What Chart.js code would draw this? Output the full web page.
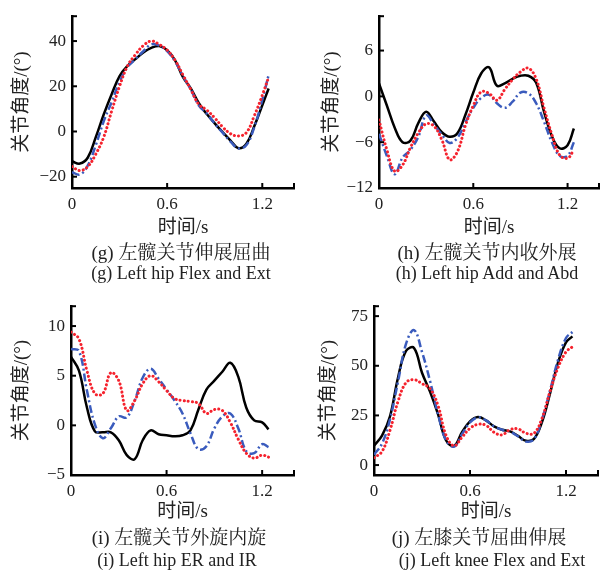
<!DOCTYPE html>
<html>
<head>
<meta charset="utf-8">
<script src="https://cdn.jsdelivr.net/npm/chart.js@4.4.1/dist/chart.umd.min.js"></script>
<style>
body { margin: 0; background: #fff; width: 613px; height: 573px; position: relative; overflow: hidden; }
canvas { position: absolute; }
.cap { position: absolute; width: 300px; text-align: center; color: #222; white-space: nowrap;
       font-family: 'Liberation Serif', 'Noto Serif CJK SC', 'Noto Sans CJK SC', serif; line-height: 20px; }
.zh { font-size: 19px; }
.en { font-size: 18px; }
</style>
</head>
<body>
<canvas id="cg" width="300" height="242" style="left:0;top:0"></canvas>
<canvas id="ch" width="300" height="242" style="left:305px;top:0"></canvas>
<canvas id="ci" width="300" height="242" style="left:0;top:290px"></canvas>
<canvas id="cj" width="300" height="242" style="left:305px;top:290px"></canvas>

<div class="cap zh" style="left:31px;top:243px">(g) 左髋关节伸展屈曲</div>
<div class="cap en" style="left:31px;top:263px">(g) Left hip Flex and Ext</div>
<div class="cap zh" style="left:337px;top:243px">(h) 左髋关节内收外展</div>
<div class="cap en" style="left:337px;top:263px">(h) Left hip Add and Abd</div>
<div class="cap zh" style="left:29px;top:528px">(i) 左髋关节外旋内旋</div>
<div class="cap en" style="left:27px;top:550px">(i) Left hip ER and IR</div>
<div class="cap zh" style="left:329px;top:528px">(j) 左膝关节屈曲伸展</div>
<div class="cap en" style="left:342px;top:550px">(j) Left knee Flex and Ext</div>

<script>
// 时间轴（s）
var TIME = [0, 0.05, 0.1, 0.15, 0.2, 0.25, 0.3, 0.35, 0.4, 0.45, 0.5, 0.55, 0.6,
            0.65, 0.7, 0.75, 0.8, 0.85, 0.9, 0.95, 1.0, 1.05, 1.1, 1.15, 1.2, 1.24];
var X_TICKS = [0, 0.6, 1.2];

// (g) 左髋关节伸展屈曲
var gSolid   = [-13.2, -14.2, -11.5, -2.5, 7.5, 16.5, 24.5, 29, 32, 35, 37, 37.8, 36,
                31.5, 24, 19, 12.5, 7.7, 3.6, -0.3, -4, -7.4, -5.4, 2.4, 11.6, 19];
var gDotted  = [-15.5, -17.3, -15.5, -10, -2.5, 9, 20, 29, 34, 38, 40, 38.5, 36,
                31.5, 25, 18.5, 12, 9.5, 6, 2, -1, -2, -0.5, 7, 16, 24];
var gDashDot = [-18, -19, -15, -6, 4.5, 13, 22, 28.5, 32, 35.5, 38.5, 38, 35.5,
                31, 24.5, 18.5, 11.5, 8, 3.5, -0.5, -4.5, -7.5, -6, 2, 14, 25];
var gYTicks  = [-20, 0, 20, 40];

// (h) 左髋关节内收外展
var hSolid   = [1.7, -1.2, -4.1, -6, -5.8, -3.5, -2, -3.3, -4.7, -5.3, -4.8, -2.4, 0.5,
                3, 3.8, 1.4, 1.7, 2.3, 2.7, 2.7, 1.8, -2, -5.2, -6.8, -6.4, -4.2];
var hDotted  = [-3.1, -7, -9.8, -9, -6.7, -4.8, -3.6, -3.9, -5.7, -8.3, -7.2, -3.8, -1.2,
                0.6, 0.4, -0.5, 0.9, 2.2, 3.2, 3.7, 2.3, -1.5, -5, -7.7, -8.1, -7];
var hDashDot = [-4.9, -7.8, -10.2, -8, -7, -5.3, -2.5, -3.7, -5, -6.1, -5.4, -3.4, -1.5,
                -0.2, 0.2, -0.9, -1.5, -0.7, 0.5, 0.4, -0.9, -3.3, -6, -7.8, -7.8, -6];
var hYTicks  = [-12, -6, 0, 6];

// (i) 左髋关节外旋内旋
var iSolid   = [6.9, 5.5, 1.8, -0.6, -0.7, -0.7, -1.5, -3, -3.4, -1.5, -0.5, -0.9, -1,
                -1.1, -1, -0.5, 1.6, 3.6, 4.5, 5.4, 6.3, 4.9, 1.8, 0.5, 0.3, -0.4];
var iDotted  = [9.4, 8.7, 5.5, 3.2, 3.2, 5.3, 4.5, 1.5, 2.5, 4.2, 5, 4.4, 3.5,
                2.7, 2.5, 2.4, 2.2, 1.2, 1.6, 1.5, 0.3, -1.4, -2.8, -3.3, -3, -3.2];
var iDashDot = [7.7, 7.5, 3.5, 0.1, -1.3, -0.3, 0.9, 0.8, 2.5, 4.8, 5.7, 4.7, 3.6,
                2.5, 1.2, -0.8, -2.4, -2.1, -0.3, 0.9, 1.2, -0.3, -2.6, -2.8, -1.9, -2.2];
var iYTicks  = [-5, 0, 5, 10];

// (j) 左膝关节屈曲伸展
var jSolid   = [9.7, 14.8, 24.5, 44, 57.5, 59, 46.5, 37, 25.6, 12.5, 9.6, 16.5, 22,
                24.2, 22.5, 19.5, 17.8, 17, 14.7, 12.2, 13.2, 21.7, 36, 51.6, 61.8, 64.8];
var jDotted  = [3.7, 6.8, 17.5, 32, 41.5, 43, 41, 38.5, 30, 15, 9.7, 14, 18.5,
                20.5, 20, 16.5, 15.2, 17.8, 18.2, 16, 16, 23.5, 37, 49, 57, 59.5];
var jDashDot = [5.2, 10.8, 23, 42, 61, 68, 57, 42.4, 25.7, 12.5, 9.3, 15.5, 21.5,
                24, 22.5, 19.5, 17.8, 16.8, 14.5, 11.8, 13, 23, 37.5, 53, 64, 67];
var jYTicks  = [0, 25, 50, 75];

var TEXT = '#222';
var NUM_FONT = "'Liberation Serif', 'Times New Roman', serif";
var CJK_FONT = "'Liberation Serif', 'Noto Sans CJK SC', sans-serif";

function pts(vals) {
    return vals.map(function (v, i) { return { x: TIME[i], y: v }; });
}

// 向内的刻度线
var innerTicks = {
    id: 'innerTicks',
    afterDatasetsDraw: function (chart) {
        var ctx = chart.ctx, a = chart.chartArea, sx = chart.scales.x, sy = chart.scales.y;
        ctx.save();
        ctx.strokeStyle = '#000';
        ctx.lineWidth = 2;
        sx.ticks.forEach(function (t) {
            var p = sx.getPixelForValue(t.value);
            if (t.value === 0) return;
            ctx.beginPath(); ctx.moveTo(p, a.bottom); ctx.lineTo(p, a.bottom - 5); ctx.stroke();
        });
        sy.ticks.forEach(function (t) {
            var p = sy.getPixelForValue(t.value);
            ctx.beginPath(); ctx.moveTo(a.left, p); ctx.lineTo(a.left + 5, p); ctx.stroke();
        });
        ctx.restore();
    }
};

function makePanel(id, yMin, yMax, yTicks, solid, dotted, dashdot, box) {
    var xMax = 1.4;
    new Chart(document.getElementById(id).getContext('2d'), {
        type: 'line',
        data: {
            datasets: [
                { data: pts(dotted), borderColor: '#f5222d', borderWidth: 3,
                  borderDash: [0.1, 4], borderCapStyle: 'round' },
                { data: pts(dashdot), borderColor: '#3a5bbd', borderWidth: 2.5,
                  borderDash: [8, 3, 2, 3] },
                { data: pts(solid), borderColor: '#000', borderWidth: 2.5 }
            ]
        },
        options: {
            responsive: false,
            animation: false,
            elements: { point: { radius: 0 }, line: { tension: 0.4, fill: false } },
            layout: { padding: { top: box.padTop, right: box.padRight, left: 0, bottom: 0 } },
            plugins: { legend: { display: false }, tooltip: { enabled: false } },
            scales: {
                x: {
                    type: 'linear', min: 0, max: xMax,
                    afterBuildTicks: function (s) {
                        s.ticks = X_TICKS.concat([xMax]).map(function (v) { return { value: v }; });
                    },
                    afterFit: function (s) { s.height = box.xHeight; },
                    grid: { display: true, drawOnChartArea: false, drawTicks: false },
                    border: { display: true, color: '#000', width: 2.5 },
                    ticks: {
                        padding: 6, color: TEXT, maxRotation: 0,
                        font: { family: NUM_FONT, size: 17 },
                        callback: function (v) { return v === xMax ? '' : String(v); }
                    },
                    title: {
                        display: true, text: '时间/s', color: TEXT,
                        font: { family: CJK_FONT, size: 19 },
                        padding: { top: 0, bottom: box.xTitlePad }
                    }
                },
                y: {
                    type: 'linear', min: yMin, max: yMax,
                    afterBuildTicks: function (s) {
                        s.ticks = yTicks.concat([yMax]).map(function (v) { return { value: v }; });
                    },
                    afterFit: function (s) { s.width = box.yWidth; },
                    grid: { display: true, drawOnChartArea: false, drawTicks: false },
                    border: { display: true, color: '#000', width: 2.5 },
                    ticks: {
                        padding: 6, color: TEXT,
                        font: { family: NUM_FONT, size: 17 },
                        callback: function (v) { return v === yMax ? '' : String(v).replace('-', '\u2212'); }
                    },
                    title: {
                        display: true, text: '关节角度/(°)', color: TEXT,
                        font: { family: CJK_FONT, size: 19 },
                        padding: { top: box.yTitlePad, bottom: 0 }
                    }
                }
            }
        },
        plugins: [innerTicks]
    });
}

makePanel('cg', -25, 51, gYTicks, gSolid, gDotted, gDashDot,
    { yWidth: 72, xHeight: 54, padTop: 7, padRight: 5, xTitlePad: 3, yTitlePad: 11 });
makePanel('ch', -12, 10.5, hYTicks, hSolid, hDotted, hDashDot,
    { yWidth: 74, xHeight: 54, padTop: 8, padRight: 2, xTitlePad: 3, yTitlePad: 16 });
makePanel('ci', -5, 12, iYTicks, iSolid, iDotted, iDashDot,
    { yWidth: 71, xHeight: 57, padTop: 6, padRight: 5, xTitlePad: 9, yTitlePad: 11 });
makePanel('cj', -5, 80, jYTicks, jSolid, jDotted, jDashDot,
    { yWidth: 69, xHeight: 57, padTop: 6, padRight: 7, xTitlePad: 9, yTitlePad: 13 });
</script>
</body>
</html>
